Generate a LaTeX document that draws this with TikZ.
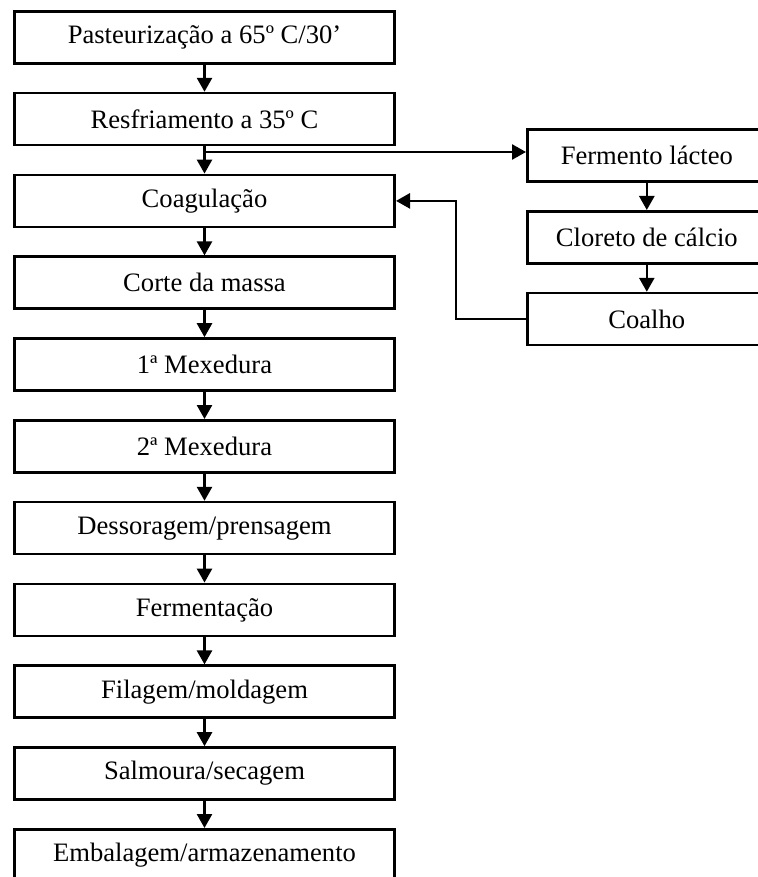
\documentclass[tikz,border=0pt]{standalone}
\usepackage{fontspec}
\setmainfont{Liberation Serif}
\usepackage{tikz}
\usetikzlibrary{arrows.meta,positioning,calc}

\begin{document}
\begin{tikzpicture}[
  node distance=13.6pt,
  stepbox/.style={rectangle, draw=black, line width=1.3pt,
                  minimum width=190.2pt, minimum height=26pt,
                  align=center, font=\fontsize{13.3}{15}\selectfont},
  sidebox/.style={stepbox, minimum width=119.5pt},
  flow/.style={line width=1.3pt, -{Triangle[length=7pt,width=7.5pt]}}
]
  \useasboundingbox (0,0) rectangle (379pt,-438.5pt);

  % main line
  \node[stepbox] (past) at (102.25pt,-18.65pt) {Pasteurização a 65º C/30’};
  \node[stepbox, below=of past] (resf) {Resfriamento a 35º C};
  \node[stepbox, below=of resf] (coag) {Coagulação};
  \node[stepbox, below=of coag] (corte) {Corte da massa};
  \node[stepbox, below=of corte] (mex1) {1ª Mexedura};
  \node[stepbox, below=of mex1] (mex2) {2ª Mexedura};
  \node[stepbox, below=of mex2] (dess) {Dessoragem/prensagem};
  \node[stepbox, below=of dess] (ferm) {Fermentação};
  \node[stepbox, below=of ferm] (fila) {Filagem/moldagem};
  \node[stepbox, below=of fila] (salm) {Salmoura/secagem};
  \node[stepbox, below=of salm] (emb) {Embalagem/armazenamento};

  % ingredients
  \node[sidebox, right=65pt of resf.east, yshift=-18.2pt] (lact) {Fermento lácteo};
  \node[sidebox, below=of lact] (clor) {Cloreto de cálcio};
  \node[sidebox, below=of clor] (coal) {Coalho};

  \coordinate (split) at ([yshift=-2.8pt]resf.south);

  \draw[flow] (past) -- (resf);
  \draw[flow] (resf) -- (coag);
  \draw[flow] (coag) -- (corte);
  \draw[flow] (corte) -- (mex1);
  \draw[flow] (mex1) -- (mex2);
  \draw[flow] (mex2) -- (dess);
  \draw[flow] (dess) -- (ferm);
  \draw[flow] (ferm) -- (fila);
  \draw[flow] (fila) -- (salm);
  \draw[flow] (salm) -- (emb);

  \draw[flow] (split) -- (split -| lact.west);
  \draw[flow] (lact) -- (clor);
  \draw[flow] (clor) -- (coal);
  \draw[flow] (coal.west) -- ++(-35pt,0) |- (coag.east);
\end{tikzpicture}
\end{document}
